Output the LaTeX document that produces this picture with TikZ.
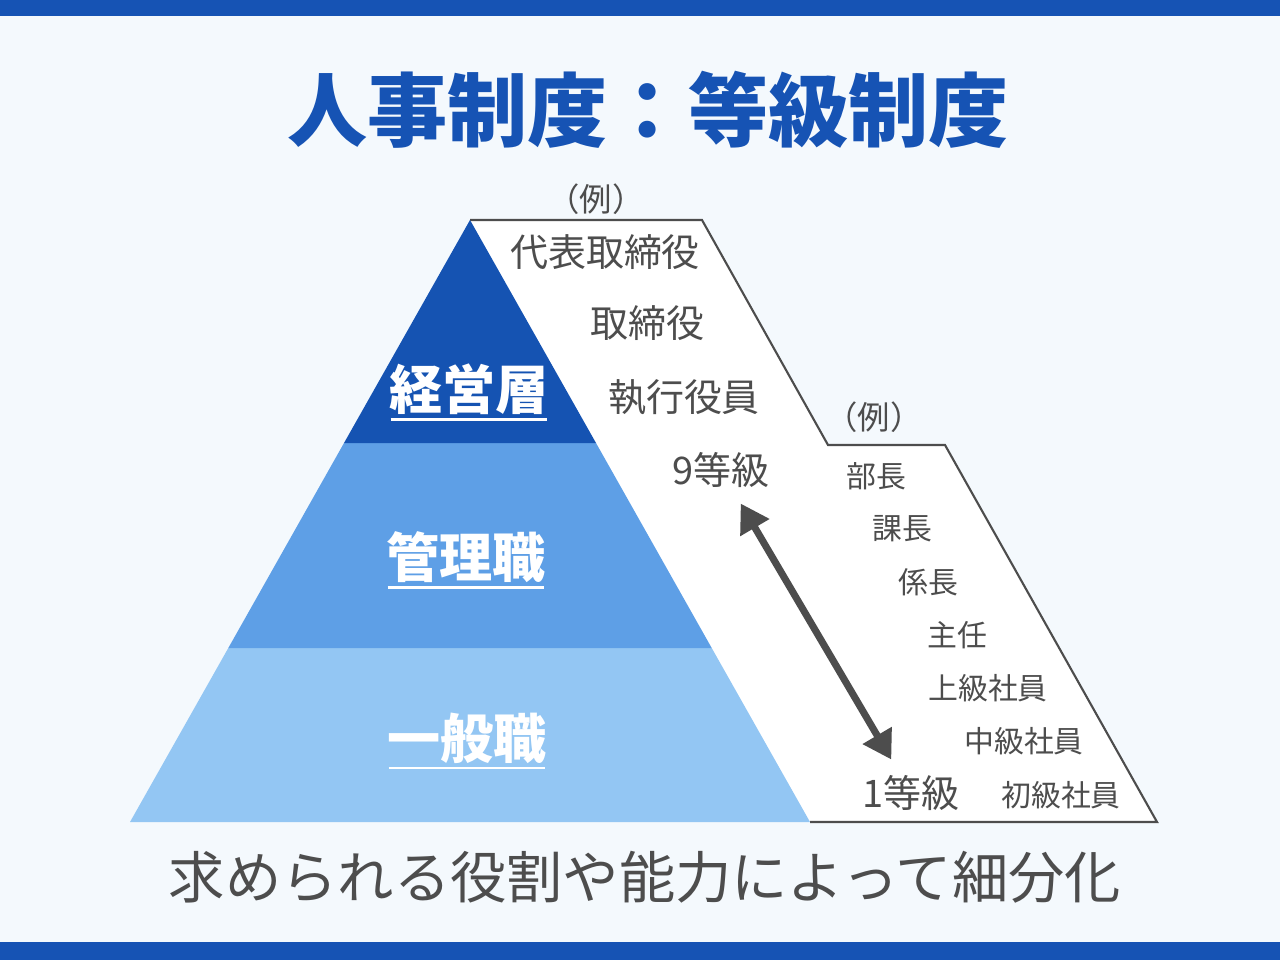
\documentclass[tikz,border=0pt]{standalone}
\usepackage{fontspec}
\setmainfont{Noto Sans CJK JP}
\usetikzlibrary{arrows.meta}

\definecolor{bandblue}{HTML}{1653B4}
\definecolor{topblue}{HTML}{1553B2}
\definecolor{midblue}{HTML}{5E9FE6}
\definecolor{lowblue}{HTML}{93C6F3}
\definecolor{paper}{HTML}{F4F9FD}
\definecolor{ink}{HTML}{4D4D4D}

\begin{document}
\begin{tikzpicture}[
    x=0.01cm, y=-0.01cm,
    >={Triangle[length=2.8mm, width=3.2mm]},
    tier/.style={
        text=white,
        inner sep=0pt,
        font=\fontsize{15.1}{17}\selectfont\bfseries
    },
    rank/.style={
        text=ink,
        inner sep=0pt,
        font=\fontsize{10.8}{12}\selectfont
    },
    post/.style={
        text=ink,
        inner sep=0pt,
        font=\fontsize{8.5}{10}\selectfont
    },
    uline/.style={white, line width=0.8pt},
    arrow/.style={<->, ink, line width=2pt}
]

\useasboundingbox (0,0) rectangle (1280,960);
\fill[paper] (0,0) rectangle (1280,960);
\fill[bandblue] (0,0) rectangle (1280,16);
\fill[bandblue] (0,942) rectangle (1280,960);

% title
\node[text=bandblue, font=\fontsize{22.8}{24}\selectfont\bfseries] (title) at (648,110) {人事制度：等級制度};

% white step band behind the pyramid
\fill[white] (470,220) -- (702,220) -- (828,445) -- (945,445) -- (1157,822) -- (810,822) -- cycle;
\draw[ink, line width=0.6pt, line join=miter] (470,220) -- (702,220) -- (828,445) -- (945,445) -- (1157,822) -- (810,822);

% pyramid
\fill[lowblue] (228.3,648) -- (711.7,648) -- (810,822) -- (130,822) -- cycle;
\fill[midblue] (344,443) -- (596,443) -- (711.7,648) -- (228.3,648) -- cycle;
\fill[topblue] (470,220) -- (596,443) -- (344,443) -- cycle;

\node[tier] (exec) at (469,389) {経営層};
\node[tier] (mgmt) at (466,557) {管理職};
\node[tier] (staff) at (467,738) {一般職};
\draw[uline] ([shift={(2,4)}]exec.south west) -- ([shift={(-2,4)}]exec.south east);
\draw[uline] ([shift={(2,4)}]mgmt.south west) -- ([shift={(-2,4)}]mgmt.south east);
\draw[uline] ([shift={(2,4)}]staff.south west) -- ([shift={(-2,4)}]staff.south east);

% first column
\node[post, font=\fontsize{9.2}{10}\selectfont] (exA) at (596,199) {（例）};
\node[rank] (ceo) at (605,252) {代表取締役};
\node[rank] (dir) at (647,323) {取締役};
\node[rank] (off) at (684,397) {執行役員};
\node[rank] (nine) at (721,470) {9等級};
\node[rank] (one) at (911,793) {1等級};

% second column
\node[post, font=\fontsize{9.2}{10}\selectfont] (exB) at (874,417) {（例）};
\node[post] (bucho) at (876,476) {部長};
\node[post] (kacho) at (902,529) {課長};
\node[post] (kakari) at (928,582) {係長};
\node[post] (shunin) at (957,635) {主任};
\node[post] (senior) at (988,688) {上級社員};
\node[post] (middle) at (1024,741) {中級社員};
\node[post] (junior) at (1061,795) {初級社員};

\draw[arrow, shorten <=5pt, shorten >=5pt] (nine) -- (one);

\node[text=ink, font=\fontsize{16}{18}\selectfont] (note) at (645,877) {求められる役割や能力によって細分化};

\end{tikzpicture}
\end{document}
